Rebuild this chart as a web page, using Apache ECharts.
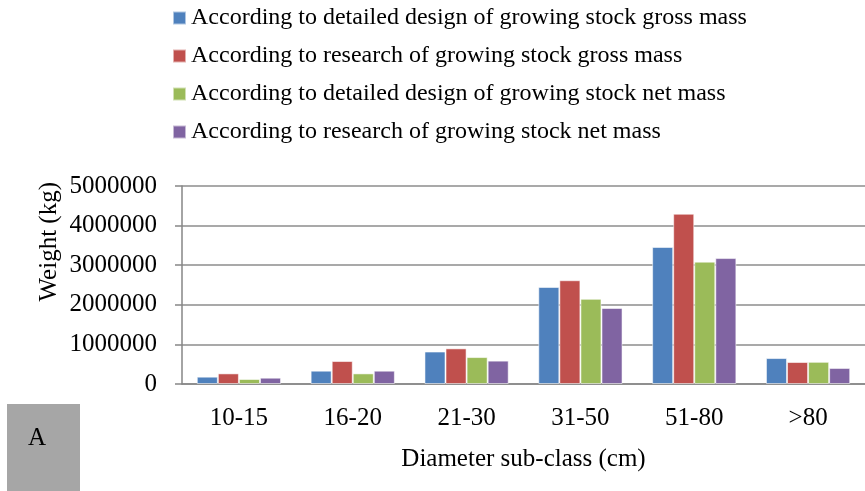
<!DOCTYPE html>
<html>
<head>
<meta charset="utf-8">
<script src="https://cdn.jsdelivr.net/npm/echarts@6/dist/echarts.min.js"></script>
<style>
  html, body { margin: 0; padding: 0; background: #fff; }
  #main { width: 865px; height: 491px; }
</style>
</head>
<body>
<div id="main"></div>
<script>
// diameter classes
var categories = ['10-15', '16-20', '21-30', '31-50', '51-80', '>80'];
var seriesNames = [
  'According to detailed design of growing stock gross mass',
  'According to research of growing stock gross mass',
  'According to detailed design of growing stock net mass',
  'According to research of growing stock net mass'
];
var designGross = [185000, 336000, 820000, 2450000, 3460000, 655000];
var researchGross = [268000, 580000, 900000, 2620000, 4300000, 555000];
var designNet = [126000, 268000, 680000, 2150000, 3090000, 560000];
var researchNet = [159000, 336000, 590000, 1920000, 3180000, 405000];
var colors = ['#4F81BD', '#C0504D', '#9BBB59', '#8064A2'];

var font = '"Liberation Serif", "Times New Roman", serif';
var chart = echarts.init(document.getElementById('main'));

var allData = [designGross, researchGross, designNet, researchNet];
var series = seriesNames.map(function (n, i) {
  return {
    name: n,
    type: 'bar',
    data: allData[i],
    barGap: '0%',
    barCategoryGap: '26%',
    itemStyle: { color: colors[i], borderColor: 'rgba(255,255,255,0.55)', borderWidth: 1 }
  };
});

var option = {
  animation: false,
  textStyle: { fontFamily: font },
  legend: {
    orient: 'vertical',
    left: 172,
    top: 5,
    padding: 0,
    itemWidth: 13,
    itemHeight: 13,
    itemGap: 12,
    icon: 'rect',
    textStyle: { fontFamily: font, fontSize: 24, color: '#000', lineHeight: 26 },
    data: seriesNames
  },
  grid: { left: 182, top: 186, width: 690, bottom: 107 },
  xAxis: {
    type: 'category',
    data: categories,
    axisLine: { lineStyle: { color: '#868686', width: 1.5 } },
    axisTick: { length: 8, lineStyle: { color: '#868686', width: 1.5 } },
    axisLabel: { fontFamily: font, fontSize: 25, color: '#000', margin: 22 },
    name: 'Diameter sub-class (cm)',
    nameLocation: 'middle',
    nameGap: 63,
    nameTextStyle: { fontFamily: font, fontSize: 25, color: '#000' }
  },
  yAxis: {
    type: 'value',
    min: 0,
    max: 5000000,
    interval: 1000000,
    axisLine: { show: true, lineStyle: { color: '#868686', width: 1.5 } },
    axisTick: { show: true, length: 7, lineStyle: { color: '#868686', width: 1.5 } },
    splitLine: { lineStyle: { color: '#8c8c8c', width: 1.5 } },
    axisLabel: {
      fontFamily: font, fontSize: 25, color: '#000', margin: 25,
      formatter: function (v) { return String(v); }
    }
  },
  graphic: [
    {
      type: 'text',
      left: 37,
      top: 182,
      rotation: Math.PI / 2,
      style: { text: 'Weight (kg)', fontFamily: font, fontSize: 25, fill: '#000' }
    },
    {
      type: 'rect',
      shape: { x: 7, y: 404, width: 73, height: 90 },
      style: { fill: '#A6A6A6' }
    },
    {
      type: 'text',
      x: 37,
      y: 438,
      style: { text: 'A', fontFamily: font, fontSize: 25, fill: '#000', align: 'center', verticalAlign: 'middle' }
    }
  ],
  series: series
};
chart.setOption(option);
</script>
</body>
</html>
